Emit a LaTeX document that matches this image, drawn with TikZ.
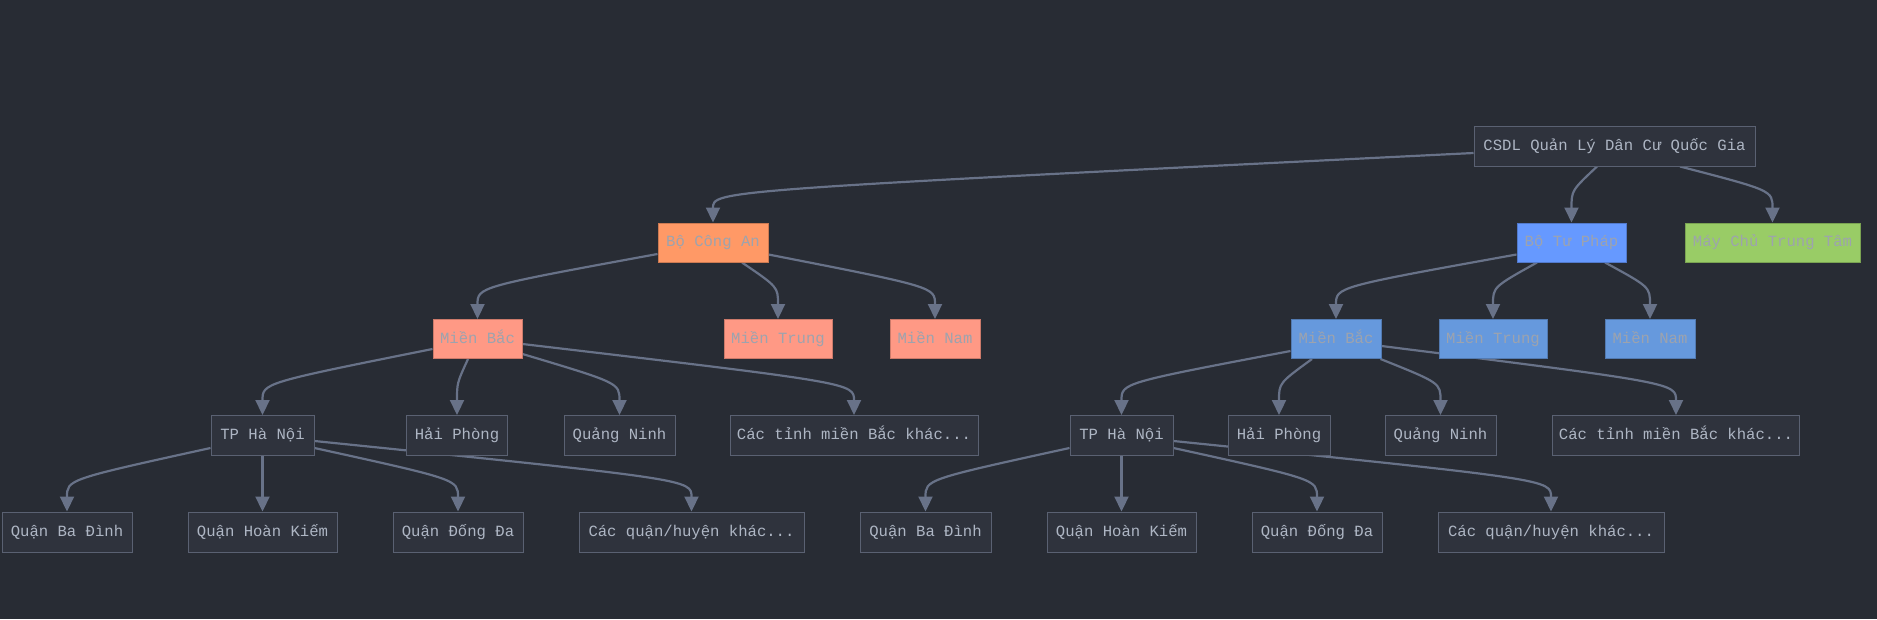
\documentclass[tikz,border=0pt]{standalone}
\usepackage{fontspec}
\setmonofont{Liberation Mono}
\usetikzlibrary{arrows.meta,calc,backgrounds}
\definecolor{bgcol}{HTML}{282C34}
\definecolor{nodefill}{HTML}{2F333D}
\definecolor{nodeborder}{HTML}{5A6172}
\definecolor{nodetext}{HTML}{AEB6C4}
\definecolor{ctext}{HTML}{9DA3AE}
\definecolor{edgecol}{HTML}{687288}
\definecolor{caorange}{HTML}{FF9966}
\definecolor{casalmon}{HTML}{FF9985}
\definecolor{tpblue}{HTML}{6699FF}
\definecolor{tpmid}{HTML}{6699DD}
\definecolor{mgreen}{HTML}{99CC66}
\newcommand\myedge[2]{\draw[edgeline] #1 .. controls ($(#2.north)+(0,-32)$) and ($(#2.north)+(0,-32)$) .. (#2.north);}
\begin{document}
\begin{tikzpicture}[x=1pt,y=-1pt,
  box/.style={draw=nodeborder, fill=nodefill, line width=1pt, text=nodetext,
    font=\ttfamily\fontsize{15.6}{18}\selectfont, inner sep=0pt, minimum height=40pt,
    text height=11.5pt, text depth=3.5pt},
  cbox/.style={box, draw=#1!80!black, fill=#1, text=ctext, minimum height=39pt},
  edgeline/.style={draw=edgecol, line width=2.2pt, -{Triangle[length=15pt,width=14pt]}}]
\useasboundingbox (0,0) rectangle (1877,619);
% row 0
\node[box, minimum width=281pt] (csdl) at (1614.5,146) {CSDL Quản Lý Dân Cư Quốc Gia};
% row 1
\node[cbox=caorange, minimum width=110pt] (bca) at (713,242.5) {Bộ Công An};
\node[cbox=tpblue, minimum width=109pt] (btp) at (1571.5,242.5) {Bộ Tư Pháp};
\node[cbox=mgreen, minimum width=175pt] (may) at (1772.5,242.5) {Máy Chủ Trung Tâm};
% row 2
\node[cbox=casalmon, minimum width=89pt] (camb) at (477.5,339) {Miền Bắc};
\node[cbox=casalmon, minimum width=108pt] (camt) at (778,339) {Miền Trung};
\node[cbox=casalmon, minimum width=90pt] (camn) at (935,339) {Miền Nam};
\node[cbox=tpmid, minimum width=90pt] (tpmb) at (1336,339) {Miền Bắc};
\node[cbox=tpmid, minimum width=108pt] (tpmt) at (1493,339) {Miền Trung};
\node[cbox=tpmid, minimum width=90pt] (tpmn) at (1650,339) {Miền Nam};
% row 3
\node[box, minimum width=103pt] (cahn) at (262.5,435.5) {TP Hà Nội};
\node[box, minimum width=101pt] (cahp) at (457,435.5) {Hải Phòng};
\node[box, minimum width=111pt] (caqn) at (619.5,435.5) {Quảng Ninh};
\node[box, minimum width=248pt] (cact) at (854,435.5) {Các tỉnh miền Bắc khác...};
\node[box, minimum width=103pt] (tphn) at (1121.5,435.5) {TP Hà Nội};
\node[box, minimum width=102pt] (tphp) at (1279,435.5) {Hải Phòng};
\node[box, minimum width=111pt] (tpqn) at (1440.5,435.5) {Quảng Ninh};
\node[box, minimum width=247pt] (tpct) at (1676,435.5) {Các tỉnh miền Bắc khác...};
% row 4
\node[box, minimum width=130pt] (cabd) at (67,532) {Quận Ba Đình};
\node[box, minimum width=149pt] (cahk) at (262.5,532) {Quận Hoàn Kiếm};
\node[box, minimum width=130pt] (cadd) at (458,532) {Quận Đống Đa};
\node[box, minimum width=225pt] (caqk) at (691.5,532) {Các quận/huyện khác...};
\node[box, minimum width=131pt] (tpbd) at (925.5,532) {Quận Ba Đình};
\node[box, minimum width=149pt] (tphk) at (1121.5,532) {Quận Hoàn Kiếm};
\node[box, minimum width=130pt] (tpdd) at (1317,532) {Quận Đống Đa};
\node[box, minimum width=226pt] (tpqk) at (1551,532) {Các quận/huyện khác...};
\begin{scope}[on background layer]
\fill[bgcol] (0,0) rectangle (1877,619);
\myedge{($(csdl.west)+(0,7)$)}{bca}
\myedge{($(csdl.south)+(-17.5,0)$)}{btp}
\myedge{($(csdl.south)+(65.5,0)$)}{may}
\myedge{($(bca.west)+(0,11.5)$)}{camb}
\myedge{($(bca.south)+(29,0)$)}{camt}
\myedge{($(bca.east)+(0,12)$)}{camn}
\myedge{($(btp.west)+(0,12)$)}{tpmb}
\myedge{($(btp.south)+(-34.5,0)$)}{tpmt}
\myedge{($(btp.south)+(33.5,0)$)}{tpmn}
\myedge{($(camb.west)+(0,10)$)}{cahn}
\myedge{($(camb.south)+(-9.5,0)$)}{cahp}
\myedge{($(camb.east)+(0,15)$)}{caqn}
\myedge{($(camb.east)+(0,5)$)}{cact}
\myedge{($(tpmb.west)+(0,12)$)}{tphn}
\myedge{($(tpmb.south)+(-24,0)$)}{tphp}
\myedge{($(tpmb.south east)+(-1,0)$)}{tpqn}
\myedge{($(tpmb.east)+(0,7)$)}{tpct}
\myedge{($(cahn.west)+(0,12.5)$)}{cabd}
\draw[edgeline] (cahn.south) -- (cahk.north);
\myedge{($(cahn.east)+(0,12.5)$)}{cadd}
\myedge{($(cahn.east)+(0,5.5)$)}{caqk}
\myedge{($(tphn.west)+(0,12.5)$)}{tpbd}
\draw[edgeline] (tphn.south) -- (tphk.north);
\myedge{($(tphn.east)+(0,12.5)$)}{tpdd}
\myedge{($(tphn.east)+(0,5.5)$)}{tpqk}
\end{scope}
\end{tikzpicture}
\end{document}
